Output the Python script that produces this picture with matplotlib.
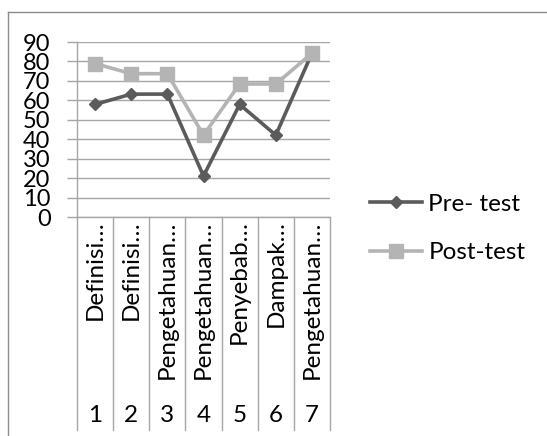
import matplotlib
matplotlib.use("Agg")
import matplotlib.pyplot as plt
import numpy as np
from matplotlib.lines import Line2D

# Scores per question (% correct), 19 respondents
categories = ["Definisi…", "Definisi…", "Pengetahuan…", "Pengetahuan…",
              "Penyebab…", "Dampak…", "Pengetahuan…"]
groups = ["1", "2", "3", "4", "5", "6", "7"]
pre_test = [57.9, 63.2, 63.2, 21.1, 57.9, 42.1, 84.2]
post_test = [78.9, 73.7, 73.7, 42.1, 68.4, 68.4, 84.2]

plt.rcParams["font.family"] = ["Lato", "DejaVu Sans"]

PRE_C = "#5b5b5b"
POST_C = "#b4b4b4"
GRID_C = "#a6a6a6"
TEXT_C = "#000000"

W, H = 547, 436
fig = plt.figure(figsize=(W / 100, H / 100), dpi=100)
fig.patch.set_facecolor("white")

# plot area in pixels: x 77..330, y 42..217
ax = fig.add_axes([77 / W, 1 - 217 / H, (330 - 77) / W, (217 - 42) / H])

x = np.arange(len(categories)) + 0.5
ax.plot(x, pre_test, color=PRE_C, lw=2.6, marker="D", ms=6.5,
        label="Pre- test", zorder=3)
ax.plot(x, post_test, color=POST_C, lw=2.6, marker="s", ms=10,
        label="Post-test", zorder=4)

ax.set_xlim(0, len(categories))
ax.set_ylim(0, 90)
ax.set_yticks(np.arange(0, 91, 10))
ax.set_xticks([])
ax.tick_params(axis="y", length=7, width=1, color=GRID_C, pad=12,
               labelsize=17, labelcolor=TEXT_C)
ax.yaxis.grid(True, color=GRID_C, lw=1)
ax.set_axisbelow(True)
for side in ("top", "right"):
    ax.spines[side].set_visible(False)
for side in ("left", "bottom"):
    ax.spines[side].set_color(GRID_C)
    ax.spines[side].set_linewidth(1)

# two-level category axis: names on top, group numbers below
tr = ax.get_xaxis_transform()
depth = 213 / 175
for k in range(len(categories) + 1):
    ax.plot([k, k], [0, -depth], transform=tr, color=GRID_C, lw=1,
            clip_on=False)
for xi, name, g in zip(x, categories, groups):
    ax.text(xi, -0.02, name, transform=tr, rotation=90, ha="center",
            va="top", fontsize=17.5, color=TEXT_C)
    ax.text(xi, -198 / 175, g, transform=tr, ha="center", va="center",
            fontsize=17.5, color=TEXT_C)

fig.legend(loc="center left", bbox_to_anchor=(370 / W, 1 - 228.5 / H),
           frameon=False, fontsize=17.5, handlelength=2.15, handletextpad=0.25,
           labelspacing=1.15, borderpad=0, borderaxespad=0)

# chart frame
fig.add_artist(Line2D([8 / W, 8 / W], [0, 1 - 12 / H], transform=fig.transFigure,
                      color="#8c8c8c", lw=1))
fig.add_artist(Line2D([8 / W, 1], [1 - 12 / H, 1 - 12 / H],
                      transform=fig.transFigure, color="#8c8c8c", lw=1))

fig.savefig("out.png", dpi=100)
